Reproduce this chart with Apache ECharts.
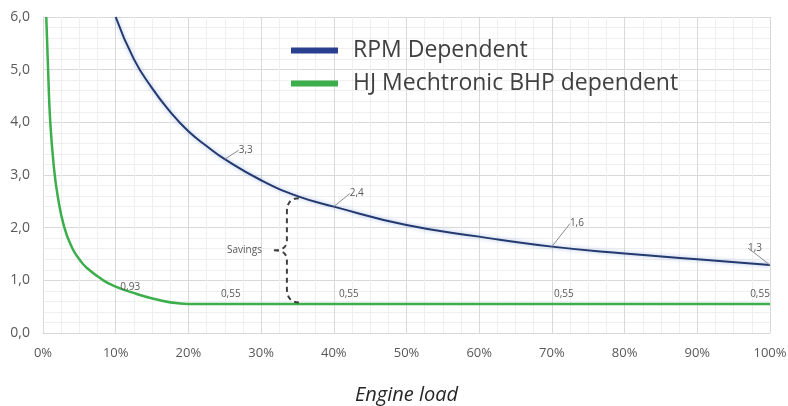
<!DOCTYPE html>
<html>
<head>
<meta charset="utf-8">
<script src="https://cdn.jsdelivr.net/npm/echarts@6/dist/echarts.min.js"></script>
<style>
html,body{margin:0;padding:0;background:#fff;}
#c{width:788px;height:406px;}
</style>
</head>
<body>
<div id="c"></div>
<script>
// ---- data ----
const rpmLoad   = [10, 12.5, 15, 17.5, 20, 22.5, 25, 30, 35, 40, 50, 60, 70, 80, 90, 100];
const rpmValue  = [6.0, 5.2, 4.65, 4.2, 3.83, 3.55, 3.3, 2.9, 2.6, 2.4, 2.05, 1.83, 1.64, 1.51, 1.4, 1.29];
const rpmLabelAt = [25, 40, 70, 100];
const rpmLabelText = ['3,3', '2,4', '1,6', '1,3'];

const bhpLoad   = [0.45, 0.7, 1.0, 1.5, 2.0, 2.9, 4.0, 5.0, 6.0, 8.3, 10, 12, 15.2, 18.9, 21, 25, 40, 70, 100];
const bhpValue  = [6.0, 5.0, 4.0, 3.15, 2.62, 2.02, 1.62, 1.40, 1.24, 1.0, 0.88, 0.78, 0.65, 0.56, 0.55, 0.55, 0.55, 0.55, 0.55];
const bhpLabelAt = [12, 25, 40, 70, 100];
const bhpLabelText = ['0,93', '0,55', '0,55', '0,55', '0,55'];

const savingsLoad = 35.2, savingsTop = 2.56, savingsBottom = 0.58;
const savingsText = 'Savings';

const seriesNames = ['RPM Dependent', 'HJ Mechtronic BHP dependent'];
const xTicks = [0, 10, 20, 30, 40, 50, 60, 70, 80, 90, 100];
const yTicks = [0, 1, 2, 3, 4, 5, 6];
const xTitle = 'Engine load';

// ---- styles ----
const BLUE = '#23396f';
const BLUE_LEG = '#2b3f8f';
const GREEN = '#3cae4c';
const TXT = '#595959';

const rpmLabelPos = {25: 'right', 40: 'right', 70: 'right', 100: 'left'};
const rpmLabelShift = {25: [9, -9], 40: [11, -13], 70: [13, -23], 100: [-3, -17]};
const bhpLabelOffset = {12: [0, 5], 25: [6, 0], 40: [15, 0], 70: [12, 0], 100: [-10, 0]};

const rpmData = rpmLoad.map((x, i) => {
  const k = rpmLabelAt.indexOf(x);
  if (k < 0) return {value: [x, rpmValue[i]], label: {show: false}};
  return {
    value: [x, rpmValue[i]],
    label: {show: true, formatter: rpmLabelText[k], position: rpmLabelPos[x], distance: 5}
  };
});
const bhpData = bhpLoad.map((x, i) => {
  const k = bhpLabelAt.indexOf(x);
  if (k < 0) return {value: [x, bhpValue[i]], label: {show: false}};
  return {
    value: [x, bhpValue[i]],
    label: {show: true, formatter: bhpLabelText[k], position: 'top', offset: bhpLabelOffset[x], distance: 5}
  };
});

const chart = echarts.init(document.getElementById('c'));
chart.setOption({
  animation: false,
  backgroundColor: '#fff',
  grid: {left: 43, right: 18, top: 17, bottom: 73, containLabel: false, outerBoundsMode: 'none'},
  legend: {
    orient: 'vertical', left: 286, top: 34,
    icon: 'rect', itemWidth: 47, itemHeight: 6, itemGap: 10,
    textStyle: {fontFamily: 'Open Sans', fontSize: 23, color: '#404040', padding: [0, 0, 0, 10]},
    data: [
      {name: seriesNames[0], itemStyle: {color: BLUE_LEG}},
      {name: seriesNames[1], itemStyle: {color: GREEN}}
    ]
  },
  xAxis: {
    type: 'value', min: 0, max: 100, interval: 10,
    name: xTitle, nameLocation: 'middle', nameGap: 52,
    nameTextStyle: {fontFamily: 'Open Sans', fontStyle: 'italic', fontSize: 20, color: '#262626'},
    axisLine: {show: true, lineStyle: {color: '#d9d9d9'}},
    axisTick: {show: false},
    axisLabel: {formatter: v => xTicks.includes(v) ? v + '%' : '', fontFamily: 'Open Sans', fontSize: 13, color: TXT, margin: 14},
    splitLine: {show: true, lineStyle: {color: '#d9d9d9'}},
    minorTick: {show: false, splitNumber: 4},
    minorSplitLine: {show: true, lineStyle: {color: '#efefef'}}
  },
  yAxis: {
    type: 'value', min: 0, max: 6, interval: 1,
    axisLine: {show: true, lineStyle: {color: '#d9d9d9'}},
    axisTick: {show: false},
    axisLabel: {formatter: v => yTicks.includes(v) ? v.toFixed(1).replace('.', ',') : '', fontFamily: 'Open Sans', fontSize: 14, color: TXT, margin: 13},
    splitLine: {show: true, lineStyle: {color: '#d9d9d9'}},
    minorTick: {show: false, splitNumber: 5},
    minorSplitLine: {show: true, lineStyle: {color: '#efefef'}}
  },
  series: [
    {
      name: seriesNames[0], type: 'line', data: rpmData,
      smooth: 0.5, showSymbol: true, symbol: 'circle', symbolSize: 0, clip: true,
      lineStyle: {color: BLUE, width: 2, shadowColor: 'rgba(90,130,200,0.55)', shadowBlur: 4},
      itemStyle: {color: BLUE},
      label: {fontFamily: 'Open Sans', fontSize: 10, color: TXT},
      labelLine: {show: true, lineStyle: {color: '#8c8c8c', width: 1}},
      labelLayout: function (p) {
        const x = rpmLoad[p.dataIndex];
        const s = rpmLabelShift[x];
        return s ? {dx: s[0], dy: s[1]} : {};
      },
      z: 3
    },
    {
      name: seriesNames[1], type: 'line', data: bhpData,
      smooth: 0.5, showSymbol: true, symbol: 'circle', symbolSize: 0, clip: true,
      lineStyle: {color: GREEN, width: 2.5},
      itemStyle: {color: GREEN},
      label: {fontFamily: 'Open Sans', fontSize: 10, color: TXT},
      z: 3
    },
    {
      type: 'custom', silent: true, z: 4,
      data: [[savingsLoad, savingsTop, savingsBottom]],
      renderItem: function (params, api) {
        const t = api.coord([api.value(0), api.value(1)]);
        const b = api.coord([api.value(0), api.value(2)]);
        const x0 = t[0], y1 = t[1], y2 = b[1];
        const sx = x0 - 12, tip = x0 - 25, mid = (y1 + y2) / 2;
        const d = 'M' + x0 + ' ' + y1 +
          ' Q' + sx + ' ' + y1 + ' ' + sx + ' ' + (y1 + 14) +
          ' L' + sx + ' ' + (mid - 10) +
          ' Q' + sx + ' ' + mid + ' ' + tip + ' ' + mid +
          ' M' + tip + ' ' + mid +
          ' Q' + sx + ' ' + mid + ' ' + sx + ' ' + (mid + 10) +
          ' L' + sx + ' ' + (y2 - 14) +
          ' Q' + sx + ' ' + y2 + ' ' + x0 + ' ' + y2;
        return {
          type: 'group',
          children: [
            {type: 'path', shape: {pathData: d},
             style: {fill: 'none', stroke: '#404040', lineWidth: 2, lineDash: [5, 4]}},
            {type: 'text', x: tip - 12, y: mid,
             style: {text: savingsText, fill: TXT, fontFamily: 'Open Sans', fontSize: 10, align: 'right', verticalAlign: 'middle'}}
          ]
        };
      }
    }
  ]
});
</script>
</body>
</html>
